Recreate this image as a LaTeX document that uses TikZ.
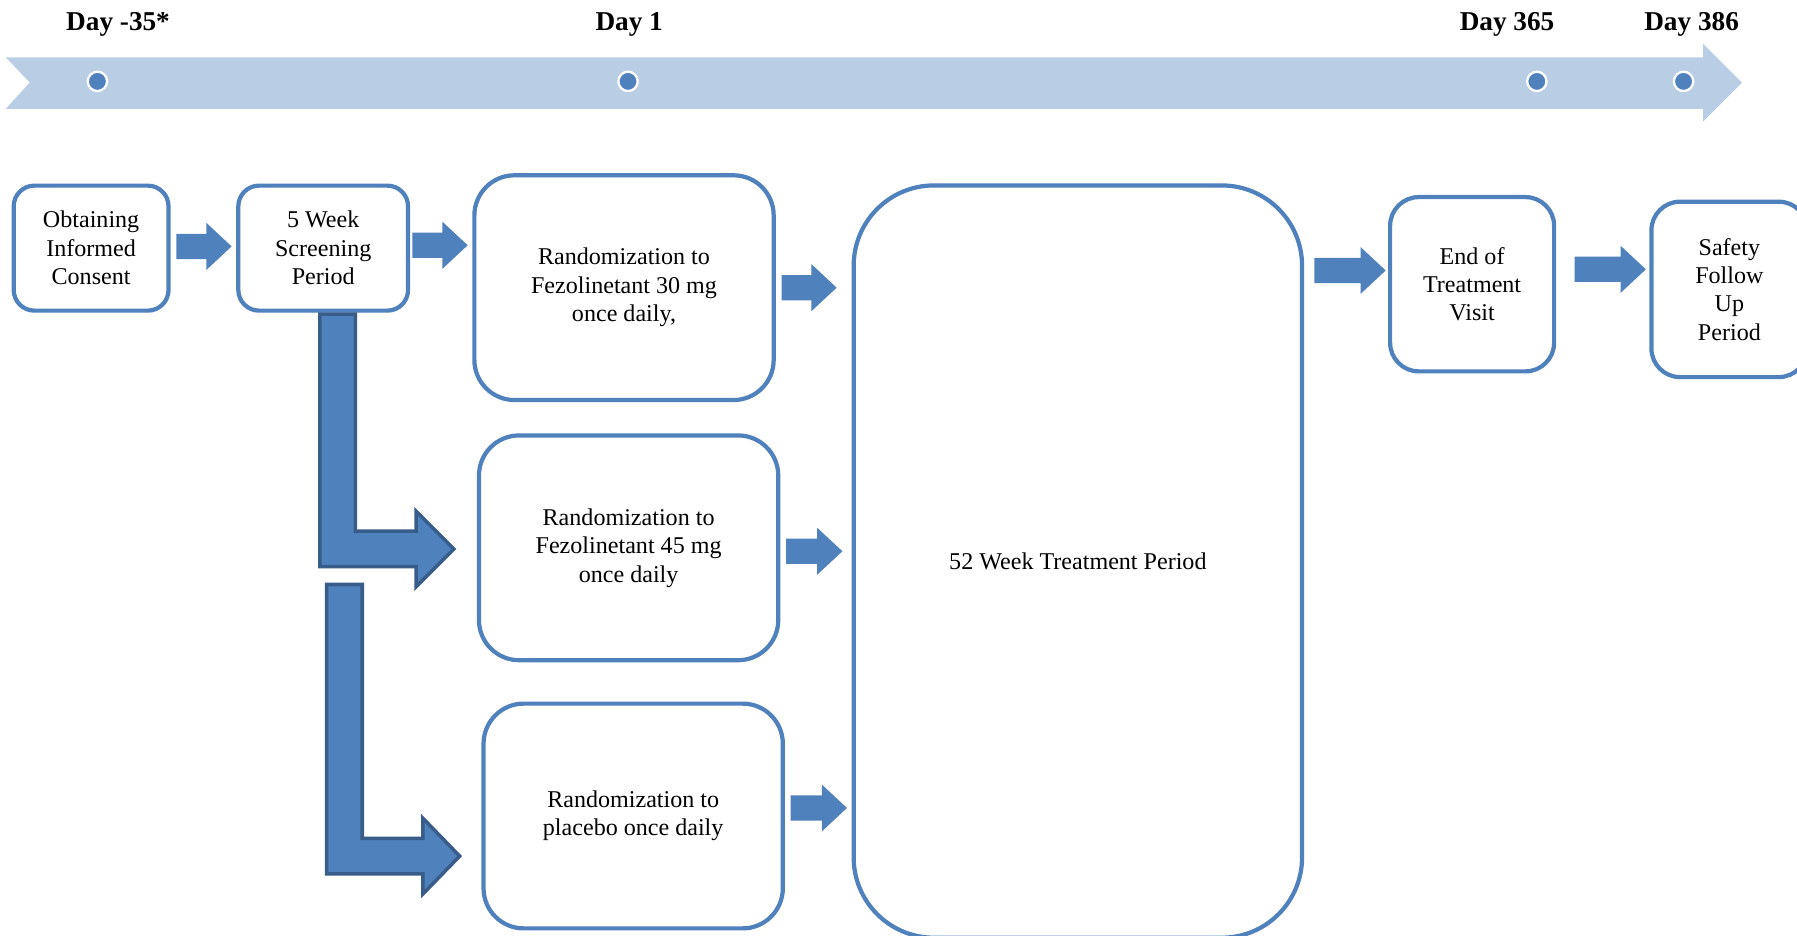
\documentclass[tikz,border=0pt]{standalone}
\usepackage{fontspec}
\setmainfont{Liberation Serif}
\usetikzlibrary{calc}
\definecolor{boxc}{HTML}{4F81BD}
\definecolor{darkc}{HTML}{385D8A}
\definecolor{bandc}{HTML}{B9CDE5}
\tikzset{
  stepbox/.style={draw=boxc, line width=2.4pt, fill=white, align=center,
    inner sep=0pt, font=\fontsize{13.7}{16.2}\selectfont},
  daylbl/.style={font=\fontsize{15.5}{17}\selectfont\bfseries, inner sep=0pt},
  dotc/.style={circle, fill=boxc, draw=white, line width=1.3pt, minimum size=11pt, inner sep=0pt},
  arrowc/.style={fill=boxc},
  bentc/.style={fill=boxc, draw=darkc, line width=2pt, line join=miter},
}
% block arrow: #1 from node, #2 to node, #3 y, #4 start gap, #5 end gap
\newcommand{\blkarrow}[5]{%
  \path let \p1=(#1.east), \p2=(#2.west), \p3=(0,#3) in
    coordinate (s) at (\x1,\y3) coordinate (e) at (\x2,\y3);
  \fill[arrowc] ($(s)+(#4,-11)$) -- ($(e)+(-#5-22,-11)$) -- ($(e)+(-#5-22,-20.5)$)
    -- ($(e)+(-#5,0)$) -- ($(e)+(-#5-22,20.5)$) -- ($(e)+(-#5-22,11)$)
    -- ($(s)+(#4,11)$) -- cycle;
}
\begin{document}
\begin{tikzpicture}[x=0.02292cm, y=-0.02292cm]
\useasboundingbox (0,0) rectangle (1568,816);
\clip (0,0) rectangle (1568,816);
\fill[white] (0,0) rectangle (1568,816);

% timeline band
\fill[bandc] (5,50) -- (1486,50) -- (1486,38) -- (1520,72) -- (1486,106)
  -- (1486,95) -- (5,95) -- (26,72) -- cycle;
\node[dotc] (d1) at (85,71) {};
\node[dotc] (d2) at (548,71) {};
\node[dotc] (d3) at (1341,71) {};
\node[dotc] (d4) at (1469,71) {};
\node[daylbl] (l1) at (103,21.5) {Day -35*};
\node[daylbl] (l2) at (549,21.5) {Day 1};
\node[daylbl] (l3) at (1315,21.5) {Day 365};
\node[daylbl] (l4) at (1476,21.5) {Day 386};

% boxes
\node[stepbox, rounded corners=11.75pt, minimum width=88.09pt, minimum height=71.12pt] (b1) at (79.5,216.5)
  {Obtaining\\Informed\\Consent};
\node[stepbox, rounded corners=11.75pt, minimum width=96.57pt, minimum height=71.12pt] (b2) at (282,216.5)
  {5 Week\\Screening\\Period};
\node[stepbox, rounded corners=22.84pt, minimum width=170.3pt, minimum height=127.89pt] (b3) at (544.5,251)
  {Randomization to\\Fezolinetant 30 mg\\once daily,};
\node[stepbox, rounded corners=22.84pt, minimum width=170.3pt, minimum height=127.89pt] (b4) at (548.5,478)
  {Randomization to\\Fezolinetant 45 mg\\once daily};
\node[stepbox, rounded corners=22.84pt, minimum width=170.3pt, minimum height=127.89pt] (b5) at (552.5,712)
  {Randomization to\\placebo once daily};
\node[stepbox, rounded corners=45.68pt, minimum width=255.13pt, minimum height=428.04pt] (big) at (940.5,490)
  {52 Week Treatment Period};
\node[stepbox, rounded corners=16.31pt, minimum width=93.31pt, minimum height=99.18pt] (eot) at (1284.5,248)
  {End of\\Treatment\\Visit};
\node[stepbox, rounded corners=16.31pt, minimum width=88.74pt, minimum height=99.83pt] (saf) at (1509,252.5)
  {Safety\\Follow\\Up\\Period};

% straight block arrows
\blkarrow{b1}{b2}{215}{5}{4}
\blkarrow{b2}{b3}{214}{2}{4}
\blkarrow{b3}{big}{251}{5}{13}
\blkarrow{b4}{big}{481}{5}{8}
\blkarrow{b5}{big}{705}{5}{4}
\blkarrow{big}{eot}{236}{9}{2}
\blkarrow{eot}{saf}{235}{16}{3}

% bent arrows
\coordinate (t1) at ($(b4.west)+(-20,1)$);
\draw[bentc] ($(t1)+(-117,-205)$) -- ($(t1)+(-86,-205)$) -- ($(t1)+(-86,-15.5)$)
  -- ($(t1)+(-33,-15.5)$) -- ($(t1)+(-33,-33)$) -- (t1) -- ($(t1)+(-33,33)$)
  -- ($(t1)+(-33,15.5)$) -- ($(t1)+(-117,15.5)$) -- cycle;
\coordinate (t2) at ($(b5.west)+(-19,35)$);
\draw[bentc] ($(t2)+(-116,-237)$) -- ($(t2)+(-85,-237)$) -- ($(t2)+(-85,-15.5)$)
  -- ($(t2)+(-32,-15.5)$) -- ($(t2)+(-32,-33)$) -- (t2) -- ($(t2)+(-32,33)$)
  -- ($(t2)+(-32,15.5)$) -- ($(t2)+(-116,15.5)$) -- cycle;
\end{tikzpicture}
\end{document}
